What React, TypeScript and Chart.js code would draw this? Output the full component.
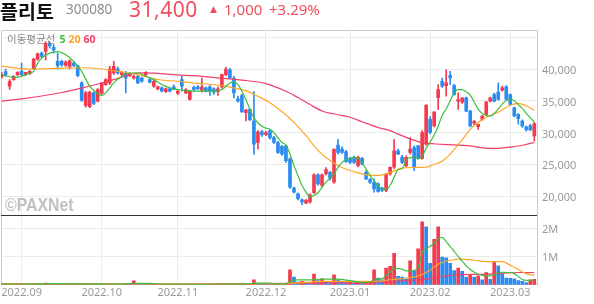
import React, { useEffect, useRef } from 'react';
import { Chart, registerables } from 'chart.js';
Chart.register(...registerables);

// ---- data (trading days 2022-08-25 .. 2023-03-10) ----
const monthIdx = [5, 25, 44, 66, 87, 107, 127];
const monthLabels = ['2022.09', '2022.10', '2022.11', '2022.12', '2023.01', '2023.02', '2023.03'];

const opens = [
  38700, 39580, 37290, 38330, 39110, 39630, 39110, 39270, 40000, 41560,
  42500, 42760, 44060, 43430, 41190, 41190, 40570, 40410, 40930, 40520,
  37810, 34270, 34060, 36250, 34940, 36140, 37550, 37810, 39370, 40000,
  39110, 39370, 38950, 38540, 38850, 38590, 39110, 38330, 37290, 36870,
  37030, 36450, 36870, 37180, 36140, 38330, 36250, 35200, 37130, 37180,
  36660, 37030, 37180, 36870, 36450, 37180, 39110, 39890, 38590, 35310,
  35830, 33120, 33640, 31800, 28430, 30100, 29680, 30250, 29210, 28430,
  27810, 27910, 25830, 21250, 20360, 19420, 18900, 19060, 20520, 23330,
  21660, 23490, 23750, 22180, 28020, 27390, 26970, 25930, 26090, 24790,
  25930, 23750, 22600, 22180, 21920, 21250, 20880, 23490, 24530, 27130,
  26090, 24790, 26870, 27650, 27900, 25930, 28170, 32080, 31040, 35500,
  38070, 37390, 38950, 37390, 34940, 34790, 35470, 33380, 31460, 30930,
  32080, 32860, 34940, 35990, 36350, 36660, 37180, 35990, 33900, 32860,
  31820, 30900, 31040, 29480,
];
const highs = [
  39480, 40000, 38330, 38950, 39580, 40930, 39400, 39800, 41700, 42500,
  42700, 44320, 44320, 43800, 42500, 41400, 41300, 41450, 41100, 40600,
  38000, 36500, 36500, 36400, 36900, 37900, 38500, 40410, 41190, 40300,
  39600, 39630, 39400, 39000, 39000, 38700, 39600, 38500, 38430, 37300,
  37200, 37000, 37000, 37500, 36600, 38850, 36900, 36600, 37300, 37400,
  38590, 37200, 37400, 37030, 37180, 39200, 40300, 40100, 38850, 35720,
  36000, 33640, 33700, 36450, 30300, 30350, 30200, 30520, 29400, 28600,
  28000, 28020, 26000, 21400, 20500, 19580, 19500, 20360, 23500, 23500,
  23500, 24500, 23900, 27400, 28950, 27800, 27200, 26100, 26300, 26300,
  26100, 24000, 22800, 22700, 22100, 21400, 23500, 24600, 28950, 27400,
  26400, 26350, 29210, 27910, 28000, 30300, 34420, 32500, 33300, 37550,
  38590, 39890, 39630, 37600, 36250, 35500, 35600, 33500, 31900, 31300,
  32700, 34900, 35600, 36200, 37810, 37300, 37400, 36100, 34000, 33000,
  32000, 31000, 31300, 31560,
];
const lows = [
  38540, 38850, 36770, 38200, 38950, 38850, 38950, 39110, 39900, 41400,
  41800, 41450, 43280, 42500, 40000, 40400, 40400, 40000, 40400, 38800,
  34900, 34000, 33900, 34400, 34800, 36000, 37400, 37550, 39110, 39200,
  38950, 36250, 38800, 38400, 37700, 37900, 38900, 37800, 37100, 36700,
  36400, 36300, 36400, 36700, 36000, 36500, 36100, 35100, 36600, 36800,
  36350, 36400, 35830, 36000, 35830, 37000, 38950, 38500, 35460, 34790,
  33200, 31820, 31900, 26610, 27400, 29400, 29500, 28950, 28300, 26700,
  26400, 25300, 21200, 20500, 19400, 18640, 18800, 18900, 20400, 21700,
  21400, 23300, 22500, 22000, 26600, 26700, 25300, 25100, 25100, 24600,
  24900, 22600, 22000, 20620, 20600, 20700, 20700, 23300, 24300, 26500,
  25100, 24530, 26610, 24000, 25800, 25800, 28000, 29800, 30900, 33640,
  37100, 35720, 37550, 35900, 33640, 34600, 33300, 30900, 31200, 30500,
  31900, 32700, 34800, 34800, 35100, 36500, 35100, 34300, 32500, 31300,
  30800, 30200, 30300, 28690,
];
const closes = [
  39110, 39110, 38070, 38850, 39480, 39110, 39480, 39630, 41560, 42390,
  41980, 44060, 43640, 43020, 40520, 40670, 41090, 41300, 40520, 38950,
  35100, 36250, 36350, 34580, 36770, 37810, 38330, 40000, 40410, 39370,
  39480, 38590, 39270, 38850, 37810, 38070, 39480, 37910, 38070, 37180,
  36510, 36870, 36510, 36770, 36510, 37290, 36770, 36510, 36770, 36870,
  37180, 36510, 36510, 36350, 36870, 39110, 40000, 38590, 36250, 34940,
  33230, 33540, 31980, 28170, 30100, 29680, 30000, 29210, 28430, 26870,
  26610, 25570, 21400, 20620, 19580, 19060, 19320, 20200, 23330, 21920,
  23330, 24160, 22810, 27390, 26870, 26870, 25410, 25310, 25310, 26090,
  25050, 22700, 22180, 21140, 20730, 20880, 23490, 24530, 27130, 26610,
  25310, 26090, 27390, 24530, 25930, 29990, 34270, 30000, 33230, 36770,
  37290, 37810, 38590, 35990, 35200, 35470, 33380, 31040, 31820, 31300,
  32600, 34790, 35470, 34940, 35200, 37030, 35200, 34420, 32600, 32180,
  31040, 30450, 30400, 31400,
];
const volumes = [
  30000, 25000, 40000, 22000, 28000, 35000, 20000, 18000, 45000, 38000,
  30000, 60000, 35000, 28000, 40000, 25000, 20000, 22000, 18000, 30000,
  45000, 40000, 35000, 30000, 28000, 25000, 22000, 40000, 38000, 25000,
  20000, 30000, 22000, 140000, 40000, 30000, 25000, 20000, 22000, 18000,
  20000, 15000, 18000, 20000, 16000, 30000, 20000, 25000, 18000, 15000,
  25000, 18000, 20000, 15000, 18000, 35000, 40000, 28000, 35000, 30000,
  40000, 25000, 30000, 180000, 40000, 30000, 25000, 28000, 30000, 35000,
  30000, 35000, 540000, 280000, 100000, 120000, 80000, 60000, 380000, 150000,
  210000, 120000, 80000, 360000, 180000, 120000, 80000, 90000, 70000, 90000,
  70000, 90000, 120000, 540000, 240000, 180000, 600000, 660000, 1130000, 300000,
  280000, 210000, 860000, 500000, 1290000, 2260000, 2080000, 770000, 1630000, 2080000,
  990000, 970000, 770000, 510000, 600000, 480000, 280000, 360000, 280000, 320000,
  180000, 440000, 200000, 830000, 680000, 390000, 240000, 235000, 210000, 150000,
  120000, 80000, 180000, 200000,
];

// moving averages: [trading-day index, value]
const ma5: [number, number][] = [
  [0, 39110], [3, 38690], [5, 38850], [7, 39370], [8, 39630], [9, 40930], [10, 41710], [12, 42500],
  [14, 42750], [16, 42240], [18, 41190], [20, 39630], [22, 37290], [24, 36140], [25, 35830], [26, 36250],
  [28, 37810], [30, 38850], [32, 39370], [34, 39370], [36, 38850], [38, 38330], [40, 37550], [42, 37030],
  [44, 36770], [46, 36610], [49, 36510], [53, 36510], [55, 36770], [57, 37810], [58, 37960], [59, 37550],
  [60, 36510], [61, 35200], [62, 33640], [63, 32340], [64, 31500], [65, 31000], [66, 30700], [67, 30520],
  [68, 29990], [69, 29210], [70, 28430], [71, 28020], [72, 26610], [73, 24790], [74, 23220], [75, 21660],
  [76, 20620], [77, 19840], [78, 20100], [79, 20520], [80, 21400], [81, 22180], [82, 22810], [83, 23490],
  [84, 24530], [85, 25310], [86, 25720], [87, 25930], [88, 26090], [89, 25930], [90, 25310], [91, 24270],
  [92, 23220], [93, 22440], [94, 21660], [95, 21040], [96, 21040], [97, 21660], [98, 22960], [99, 24160],
  [100, 24300], [101, 25700], [102, 26050], [103, 26100], [104, 25900], [105, 26300], [106, 27500], [107, 28500],
  [108, 29600], [109, 31000], [110, 32700], [111, 33700], [112, 35000], [113, 36300], [114, 36770], [115, 36770],
  [116, 36400], [117, 35900], [118, 34800], [119, 33700], [120, 33000], [121, 32700], [122, 32600], [123, 33000],
  [124, 33700], [125, 34500], [126, 35000], [127, 35200], [128, 35000], [129, 34400], [130, 33800], [131, 33000],
  [132, 32300], [133, 31700],
];
const ma20: [number, number][] = [
  [0, 40450], [7, 40000], [14, 40100], [20, 40200], [25, 40000], [27, 39800], [31, 39450], [35, 38950],
  [39, 38350], [44, 38070], [49, 37750], [55, 37400], [58, 37000], [61, 36600], [64, 35700], [67, 34700],
  [70, 33300], [73, 31600], [76, 29500], [79, 27200], [82, 25600], [85, 24500], [88, 23850], [91, 23350],
  [94, 23250], [97, 23700], [100, 24400], [103, 24500], [106, 24550], [108, 25000], [110, 25500], [112, 26600],
  [115, 28900], [117, 30500], [118, 31100], [121, 32400], [124, 33200], [127, 34300], [129, 34600], [131, 34200],
  [133, 33500],
];
const ma60: [number, number][] = [
  [0, 34950], [5, 35300], [10, 35750], [15, 36300], [20, 37000], [25, 37800], [30, 38700], [34, 39400],
  [38, 39350], [42, 39150], [46, 39000], [50, 38850], [55, 38550], [60, 38250], [66, 37700], [71, 36500],
  [74, 35500], [77, 34400], [80, 33400], [84, 32800], [87, 32400], [90, 31700], [94, 30800], [97, 30300],
  [99, 29750], [102, 29000], [105, 28400], [110, 28150], [117, 27900], [120, 27600], [123, 27500], [127, 27700],
  [130, 28000], [133, 28450],
];
const vma5: [number, number][] = [
  [0, 28000], [10, 30000], [12, 40000], [20, 30000], [30, 28000], [33, 50000], [37, 50000], [40, 25000],
  [50, 20000], [62, 30000], [63, 60000], [67, 60000], [68, 35000], [71, 33000], [72, 130000], [74, 180000],
  [77, 180000], [80, 200000], [84, 200000], [87, 150000], [90, 90000], [92, 100000], [93, 180000], [95, 220000],
  [96, 330000], [97, 450000], [98, 600000], [99, 580000], [100, 560000], [101, 500000], [102, 500000], [103, 520000],
  [104, 620000], [105, 1150000], [106, 1300000], [107, 1380000], [108, 1500000], [109, 1650000], [110, 1700000], [111, 1550000],
  [112, 1380000], [113, 1200000], [114, 1020000], [115, 850000], [116, 680000], [117, 550000], [118, 450000], [119, 380000],
  [120, 340000], [121, 320000], [122, 320000], [123, 360000], [124, 430000], [125, 450000], [126, 440000], [127, 440000],
  [128, 400000], [129, 300000], [130, 190000], [131, 160000], [132, 160000], [133, 180000],
];
const vma20: [number, number][] = [
  [0, 30000], [20, 32000], [40, 30000], [60, 28000], [70, 35000], [72, 50000], [75, 80000], [80, 120000],
  [90, 120000], [95, 140000], [97, 180000], [100, 220000], [104, 320000], [107, 520000], [109, 740000], [112, 880000],
  [115, 920000], [118, 880000], [121, 830000], [125, 830000], [127, 700000], [129, 550000], [131, 400000], [133, 340000],
];
const vma60: [number, number][] = [
  [0, 30000], [40, 28000], [80, 60000], [90, 70000], [100, 140000], [104, 180000], [108, 240000], [111, 320000],
  [114, 360000], [121, 380000], [125, 420000], [129, 440000], [133, 440000],
];

const priceTicks = [20000, 25000, 30000, 35000, 40000, 45000];
const volTicks = [1000000, 2000000];

// ---- styles ----
const RED = '#f23b4e';
const BLUE = '#2a8bf0';
const GREEN = '#3cbf3c';
const ORANGE = '#ffa626';
const PINK = '#f2406a';
const GRID = '#ececec';
const FRAME = '#cccccc';
const TICK = '#999999';
const FONT = "'Noto Sans', 'Noto Sans CJK KR', sans-serif";

const framePlugin = {
  id: 'frame',
  beforeDatasetsDraw(chart: any) {
    const { ctx, chartArea: a } = chart;
    ctx.save();
    ctx.strokeStyle = FRAME;
    ctx.lineWidth = 1;
    ctx.beginPath();
    ctx.moveTo(Math.round(a.left) + 0.5, a.bottom);
    ctx.lineTo(Math.round(a.left) + 0.5, Math.round(a.top) + 0.5);
    ctx.lineTo(a.right, Math.round(a.top) + 0.5);
    ctx.stroke();
    ctx.restore();
  },
  afterDraw(chart: any) {
    const { ctx, chartArea: a, scales } = chart;
    const y = Math.round(scales.yv.top) + 0.5;
    ctx.save();
    ctx.strokeStyle = '#333333';
    ctx.lineWidth = 1;
    ctx.beginPath();
    ctx.moveTo(a.left, y);
    ctx.lineTo(a.right, y);
    ctx.stroke();
    ctx.restore();
  },
};

function lineSet(pts: [number, number][], color: string, axis: string) {
  return {
    type: 'line' as const,
    data: pts.map(([x, y]) => ({ x, y })),
    borderColor: color,
    borderWidth: 1.2,
    pointRadius: 0,
    cubicInterpolationMode: 'monotone' as const,
    xAxisID: 'x',
    yAxisID: axis,
    order: 0,
  };
}

const T = (p: { l: number; t: number; fs: number; c: string; w?: number; f?: string; children: any; ls?: number; sx?: number }) => (
  <div
    style={{
      position: 'absolute',
      left: p.l,
      top: p.t,
      fontSize: p.fs,
      lineHeight: `${p.fs}px`,
      color: p.c,
      fontWeight: p.w ?? 400,
      fontFamily: p.f ?? FONT,
      letterSpacing: p.ls ?? 0,
      whiteSpace: 'nowrap',
      transform: p.sx ? `scaleX(${p.sx})` : undefined,
      transformOrigin: 'left top',
    }}
  >
    {p.children}
  </div>
);

export default function App() {
  const ref = useRef<HTMLCanvasElement>(null);
  useEffect(() => {
    const n = closes.length;
    const idx = Array.from({ length: n }, (_, i) => i);
    const cColor = idx.map((i) => (closes[i] >= opens[i] ? RED : BLUE));
    const vColor = idx.map((i) => (i === 0 || volumes[i] > volumes[i - 1] ? RED : BLUE));
    const tickFont = { family: FONT, size: 11 };
    const chart = new Chart(ref.current as HTMLCanvasElement, {
      type: 'bar',
      data: {
        datasets: [
          lineSet(ma5, GREEN, 'y'),
          lineSet(ma20, ORANGE, 'y'),
          lineSet(ma60, PINK, 'y'),
          lineSet(vma5, GREEN, 'yv'),
          lineSet(vma20, ORANGE, 'yv'),
          lineSet(vma60, PINK, 'yv'),
          {
            type: 'bar',
            data: idx.map((i) => ({ x: i, y: [lows[i], highs[i]] })),
            backgroundColor: cColor,
            barThickness: 1,
            grouped: false,
            xAxisID: 'x',
            yAxisID: 'y',
            order: 2,
          },
          {
            type: 'bar',
            data: idx.map((i) => ({ x: i, y: [opens[i], closes[i]] })),
            backgroundColor: cColor,
            barThickness: 3,
            minBarLength: 1,
            grouped: false,
            xAxisID: 'x',
            yAxisID: 'y',
            order: 1,
          },
          {
            type: 'bar',
            data: idx.map((i) => ({ x: i, y: volumes[i] })),
            backgroundColor: vColor,
            barThickness: 3,
            grouped: false,
            xAxisID: 'x',
            yAxisID: 'yv',
            order: 3,
          },
        ] as any,
      },
      options: {
        animation: false,
        responsive: false,
        maintainAspectRatio: false,
        layout: { padding: { left: 1, top: 30, right: 0, bottom: 4 } },
        plugins: { legend: { display: false }, tooltip: { enabled: false } },
        scales: {
          x: {
            type: 'linear',
            min: -0.15,
            max: 133.675,
            offset: false,
            afterBuildTicks: (s: any) => {
              s.ticks = monthIdx.map((v) => ({ value: v }));
            },
            ticks: {
              callback: (v: any) => monthLabels[monthIdx.indexOf(v)] ?? '',
              color: TICK,
              font: tickFont,
              padding: 1,
              maxRotation: 0,
              autoSkip: false,
            },
            grid: { color: GRID, drawTicks: false, offset: false },
            border: { color: FRAME },
          },
          y: {
            type: 'linear',
            position: 'right',
            stack: 'panes',
            stackWeight: 186.7,
            min: 16970,
            max: 46140,
            beginAtZero: false,
            afterBuildTicks: (s: any) => {
              s.ticks = priceTicks.map((v) => ({ value: v }));
            },
            afterFit: (s: any) => {
              s.width = 57;
            },
            ticks: {
              callback: (v: any) => (v === 45000 ? '' : Number(v).toLocaleString('en-US')),
              color: TICK,
              font: tickFont,
              padding: 5,
              labelOffset: 2,
            },
            grid: { color: GRID, drawTicks: false },
            border: { color: FRAME },
          },
          yv: {
            type: 'linear',
            position: 'right',
            stack: 'panes',
            stackWeight: 70,
            min: 0,
            max: 2490000,
            afterBuildTicks: (s: any) => {
              s.ticks = volTicks.map((v) => ({ value: v }));
            },
            afterFit: (s: any) => {
              s.width = 57;
            },
            ticks: {
              callback: (v: any) => `${Number(v) / 1000000}M`,
              color: TICK,
              font: tickFont,
              padding: 5,
              labelOffset: 1,
            },
            grid: { color: GRID, drawTicks: false },
            border: { color: FRAME },
          },
        },
      } as any,
      plugins: [framePlugin],
    });
    return () => chart.destroy();
  }, []);

  return (
    <div style={{ position: 'fixed', left: 0, top: 0, width: 594, height: 304, background: '#fff', overflow: 'hidden' }}>
      <canvas ref={ref} width={594} height={304} style={{ position: 'absolute', left: 0, top: 0, width: 594, height: 304 }} />
      <T l={0} t={1} fs={19.5} c="#111" w={700} f="'Noto Sans CJK KR', sans-serif">플리토</T>
      <T l={66} t={3} fs={13.5} c="#8c8c8c">300080</T>
      <T l={129} t={-1} fs={21} c="#f24d5c" ls={0.5}>31,400</T>
      <T l={210} t={5} fs={9} c="#f24d5c" f="'DejaVu Sans', sans-serif">▲</T>
      <T l={224} t={2} fs={15} c="#f24d5c">1,000</T>
      <T l={269} t={2} fs={15} c="#f24d5c">+3.29%</T>
      <T l={7} t={34} fs={10.5} c="#8a8a8a" f="'Noto Sans CJK KR', sans-serif">이동평균선</T>
      <T l={59.5} t={34} fs={10.5} c={GREEN} w={700}>5</T>
      <T l={68.5} t={34} fs={10.5} c={ORANGE} w={700}>20</T>
      <T l={83.5} t={34} fs={10.5} c={PINK} w={700}>60</T>
      <T l={5} t={196} fs={18} c="#c0c0c0" w={700} f="'Liberation Sans', sans-serif" sx={0.88}>©PAXNet</T>
    </div>
  );
}
